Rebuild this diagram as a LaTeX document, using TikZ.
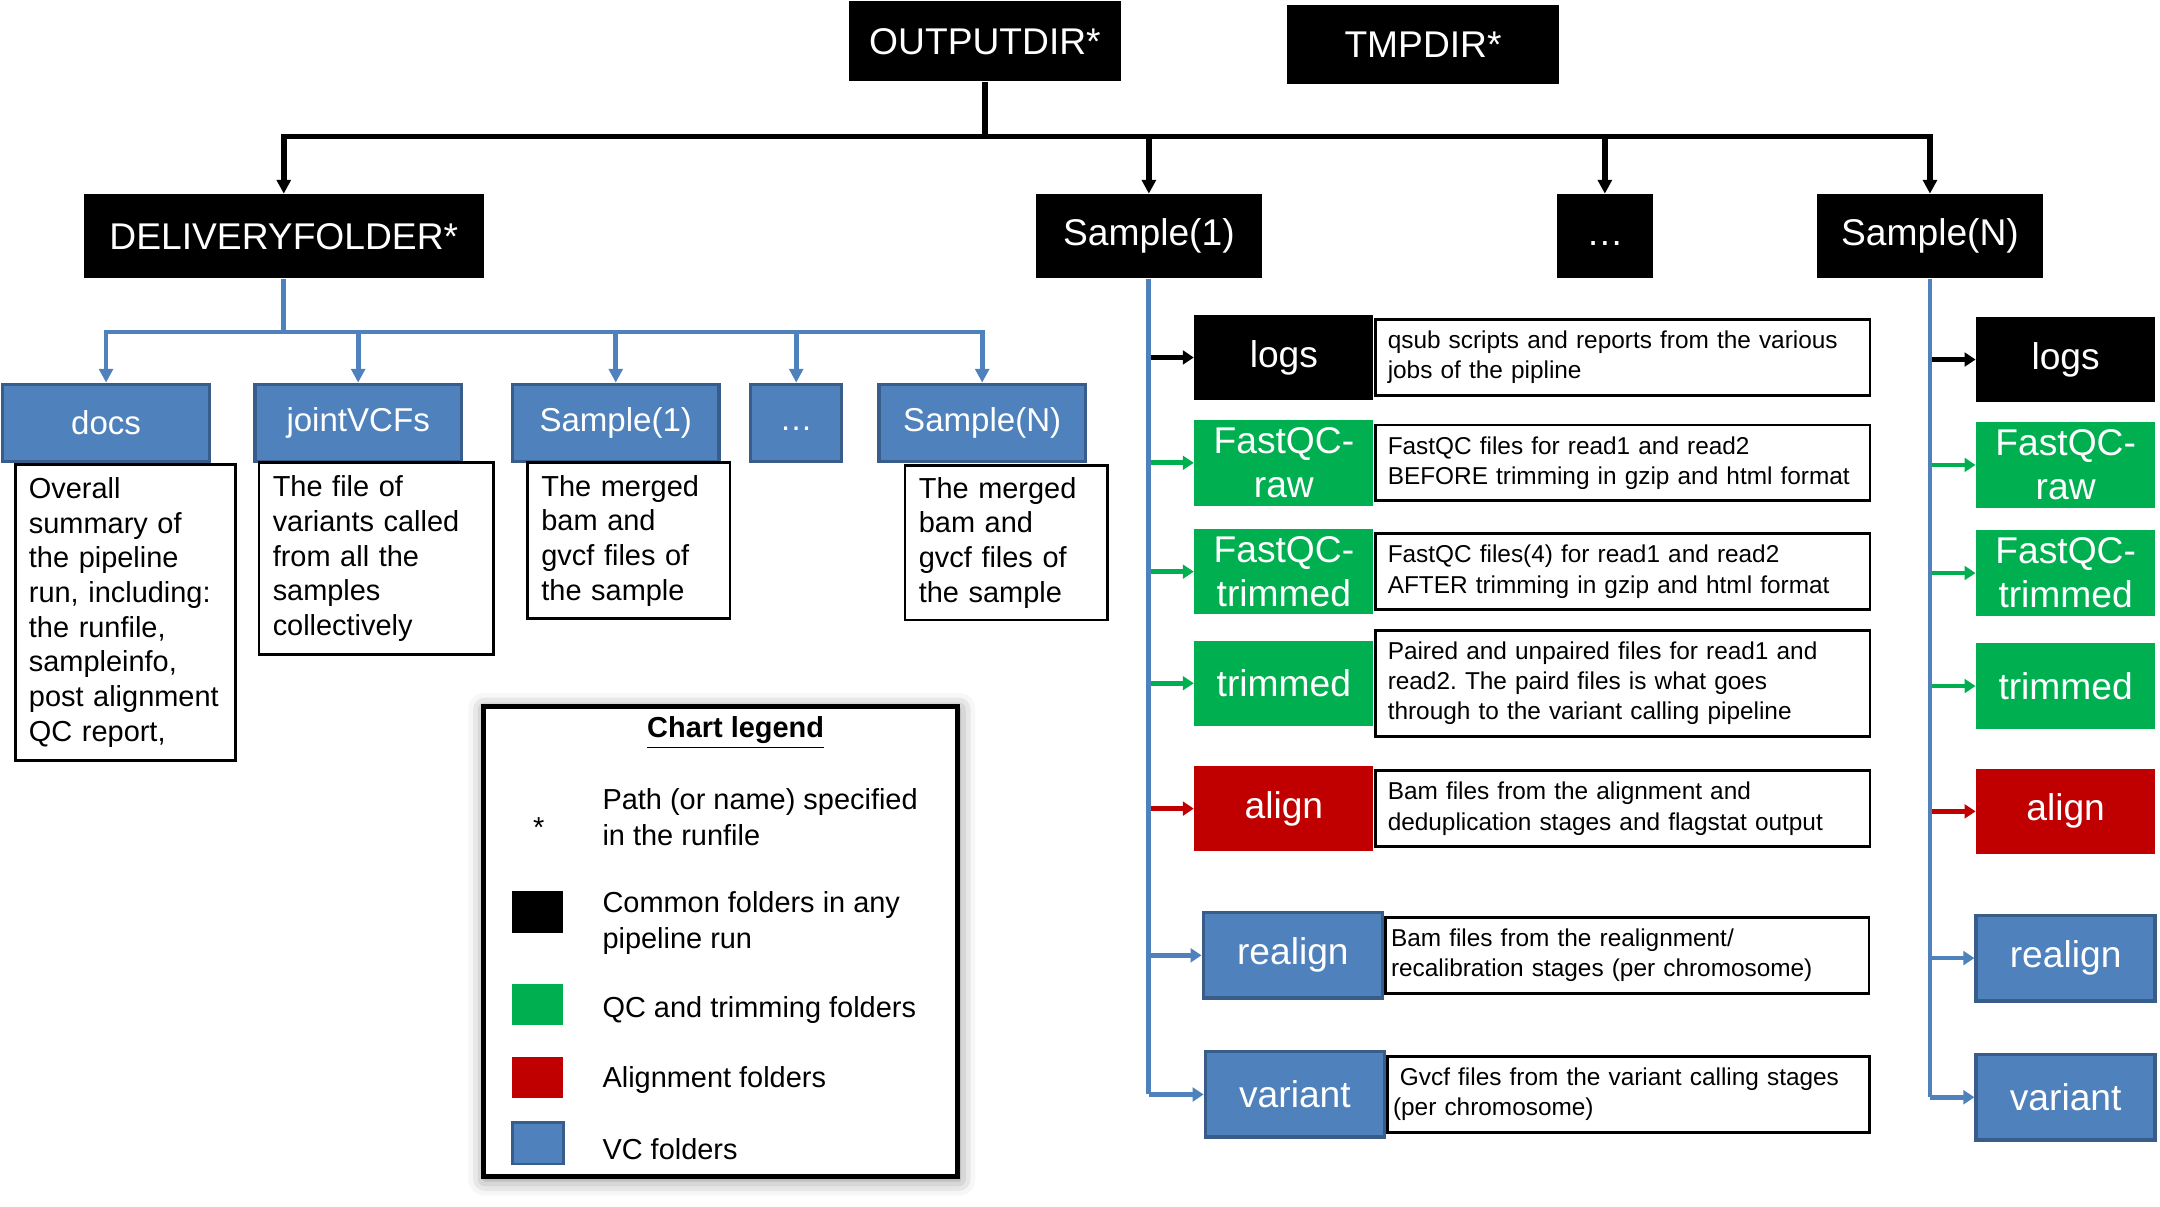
\documentclass[tikz,border=0pt]{standalone}
\usepackage{fontspec}
\setmainfont{Liberation Sans}
\usetikzlibrary{positioning,arrows.meta,shadows.blur}
\definecolor{qcgreen}{HTML}{00B050}
\definecolor{algred}{HTML}{C00000}
\definecolor{vcblue}{HTML}{4F81BD}
\definecolor{vcedge}{HTML}{385D8A}
\frenchspacing
\hyphenpenalty=10000
\tikzset{
  folder/.style={text=white, inner sep=0pt, align=center, font=\fontsize{13.5}{16}\selectfont},
  common/.style={folder, fill=black},
  qc/.style={folder, fill=qcgreen},
  aln/.style={folder, fill=algred},
  vc/.style={folder, fill=vcblue, draw=vcedge, line width=1.25pt},
  top/.style={common, minimum height=30.5pt},
  sub/.style={vc, minimum height=28pt, font=\fontsize{12}{14}\selectfont},
  col/.style={minimum width=65pt, minimum height=31pt},
  desc/.style={draw=black, line width=1pt, inner xsep=4.5pt, inner ysep=2pt, text width=170.5pt,
    minimum height=27.5pt, align=left, font=\fontsize{8.85}{11}\selectfont},
  note/.style={draw=black, line width=1pt, inner xsep=5pt, inner ysep=2pt, anchor=north west,
    align=left, font=\fontsize{10.5}{12.6}\selectfont},
  tree/.style={line width=2pt, -{Triangle[length=5pt,width=5pt]}},
  branch/.style={line width=1.75pt, vcblue, -{Triangle[length=5pt,width=5pt]}},
  side/.style={line width=1.75pt, -{Triangle[length=4pt,width=5pt]}},
  key/.style={minimum width=18.5pt, minimum height=15pt, inner sep=0pt},
  leg/.style={anchor=west, align=left, inner sep=0pt, font=\fontsize{10.5}{13}\selectfont},
}
\begin{document}
\begin{tikzpicture}[x=0.5pt, y=-0.5pt, line join=miter]
\useasboundingbox (0,0) rectangle (1568,876);
% top level
\node[common, minimum width=99pt, minimum height=29pt] (out) at (715,30) {OUTPUTDIR*};
\node[common, minimum width=99pt, minimum height=28.5pt] (tmp) at (1033,32.5) {TMPDIR*};
\node[top, minimum width=145pt] (deliv) at (206,171.5) {DELIVERYFOLDER*};
\node[top, minimum width=82pt] (sA) at (834,171.5) {Sample(1)};
\node[top, minimum width=35pt] (sdots) at (1165,171.5) {\strut\dots};
\node[top, minimum width=82pt] (sB) at (1401,171.5) {Sample(N)};
\coordinate (bus) at (715,99);
\draw[line width=2pt] (out.south) -- (bus);
\foreach \n in {deliv,sA,sdots,sB}
  \draw[tree] (bus) -| (\n.north);
% delivery folder
\node[sub, minimum width=75pt] (docs) at (77,307) {docs};
\node[sub, minimum width=75pt] (joint) at (260,307) {jointVCFs};
\node[sub, minimum width=75pt] (dsA) at (447,307) {Sample(1)};
\node[sub, minimum width=33pt] (ddots) at (578,307) {\strut\dots};
\node[sub, minimum width=75pt] (dsB) at (713,307) {Sample(N)};
\coordinate (dbus) at (206,241);
\draw[line width=1.75pt, vcblue] (deliv.south) -- (dbus);
\foreach \n in {docs,joint,dsA,ddots,dsB}
  \draw[branch] (dbus) -| (\n.north);
\node[note, text width=70pt, minimum height=107.5pt] (docsn) at (10,336) {Overall\\summary of\\the pipeline\\run, including:\\the runfile,\\sampleinfo,\\post alignment\\QC report,};
\node[note, text width=75pt, minimum height=69.5pt] (jointn) at (187,335) {The file of\\variants called\\from all the\\samples\\collectively};
\node[note, text width=63.5pt, minimum height=56.5pt] (dsAn) at (382,335) {The merged\\bam and\\gvcf files of\\the sample};
\node[note, text width=63.5pt, minimum height=56pt] (dsBn) at (656,337) {The merged\\bam and\\gvcf files of\\the sample};
% sample 1
\node[common, col] (logsA) at (932,259.5) {logs};
\node[qc, col] (rawA) at (932,336) {FastQC-\\raw};
\node[qc, col] (qctA) at (932,415) {FastQC-\\trimmed};
\node[qc, col] (trimA) at (932,496) {trimmed};
\node[aln, col] (alnA) at (932,587) {align};
\node[vc, col] (realA) at (938.5,693.5) {realign};
\node[vc, col] (varA) at (940,794.5) {variant};
\node[desc, right=0pt of logsA] (logsAd) {qsub scripts and reports from the various\\jobs of the pipline};
\node[desc, right=0pt of rawA] (rawAd) {FastQC files for read1 and read2\\BEFORE trimming in gzip and html format};
\node[desc, right=0pt of qctA] (qctAd) {FastQC files(4) for read1 and read2\\AFTER trimming in gzip and html format};
\node[desc, right=0pt of trimA, minimum height=38.5pt] (trimAd) {Paired and unpaired files for read1 and\\read2. The paird files is what goes\\through to the variant calling pipeline};
\node[desc, right=0pt of alnA] (alnAd) {Bam files from the alignment and\\deduplication stages and flagstat output};
\node[desc, right=0pt of realA, inner xsep=2pt, text width=171.5pt] (realAd) {Bam files from the realignment/\\recalibration stages (per chromosome)};
\node[desc, right=0pt of varA, inner xsep=2pt, text width=171pt] (varAd) {\hspace*{2.5pt}Gvcf files from the variant calling stages\\(per chromosome)};
\foreach \n/\c in {logsA/black,rawA/qcgreen,qctA/qcgreen,trimA/qcgreen,alnA/algred,realA/vcblue,varA/vcblue}
  \draw[side, \c] (sA.south |- \n.west) -- (\n.west);
\draw[line width=1.75pt, vcblue] (sA.south) -- (sA.south |- varA.west);
% sample N
\foreach \n/\y/\s/\c/\t in {logsB/261/common/black/logs, rawB/337.5/qc/qcgreen/{FastQC-\\raw},
    qctB/416/qc/qcgreen/{FastQC-\\trimmed}, trimB/498/qc/qcgreen/trimmed, alnB/589/aln/algred/align,
    realB/695.5/vc/vcblue/realign, varB/796.5/vc/vcblue/variant}
{
  \node[\s, col] (\n) at (1499.5,\y) {\t};
  \draw[side, \c] (sB.south |- \n.west) -- (\n.west);
}
\draw[line width=1.75pt, vcblue] (sB.south) -- (sB.south |- varB.west);
% legend
\node[draw=black, line width=2pt, fill=white, minimum width=172pt, minimum height=170.5pt,
  blur shadow={shadow xshift=0.5pt, shadow yshift=-1pt, shadow blur radius=6pt, shadow opacity=50}]
  (legend) at (523,683.5) {};
\node[inner sep=0pt, font=\fontsize{10.5}{13}\selectfont\bfseries] (legtitle) at (534,532) {\underline{Chart legend}};
\node[inner sep=0pt, font=\fontsize{10.5}{13}\selectfont] (keystar) at (391,601) {*};
\node[key, fill=black] (keycommon) at (390.5,662) {};
\node[key, fill=qcgreen] (keyqc) at (390.5,729) {};
\node[key, fill=algred] (keyaln) at (390.5,782) {};
\node[key, fill=vcblue, draw=vcedge, line width=1pt] (keyvc) at (390.5,830) {};
\node[leg] (legstar) at (437,593) {Path (or name) specified\\in the runfile};
\node[leg] (legcommon) at (437,670) {Common folders in any\\pipeline run};
\node[leg] (legqc) at (437,733) {QC and trimming folders};
\node[leg] (legaln) at (437,784) {Alignment folders};
\node[leg] (legvc) at (437,834) {VC folders};
\end{tikzpicture}
\end{document}
